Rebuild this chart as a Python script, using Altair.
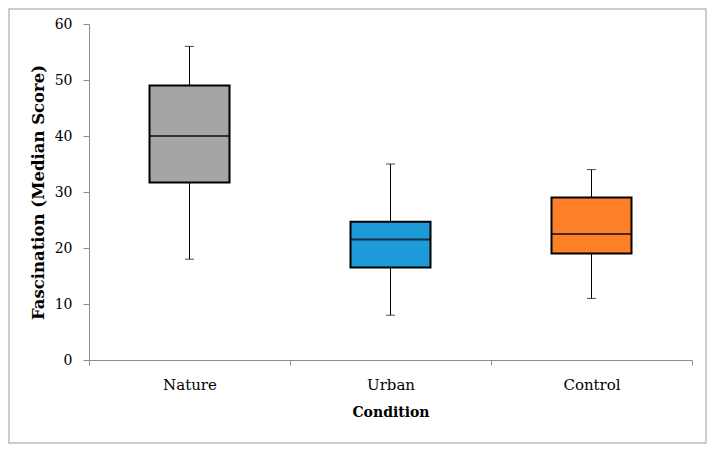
import altair as alt
import pandas as pd

conditions = ["Nature", "Urban", "Control"]
mins = [18, 8, 11]
q1s = [31.7, 16.5, 19]
medians = [40, 21.5, 22.5]
q3s = [49, 24.7, 29]
maxs = [56, 35, 34]
colors = ["#a5a5a5", "#1e9ad8", "#fd7f27"]

df = pd.DataFrame({
    "Condition": conditions,
    "min": mins, "q1": q1s, "median": medians, "q3": q3s, "max": maxs,
})

FONT = "DejaVu Serif"

x = alt.X("Condition:N", sort=conditions,
          scale=alt.Scale(paddingInner=0, paddingOuter=0),
          axis=alt.Axis(title="Condition", labelAngle=0, tickBand="extent",
                        domainColor="#8c8c8c", tickColor="#8c8c8c", tickSize=5,
                        labelPadding=12, titlePadding=13, labelFontSize=15,
                        titleFontSize=14, labelFont=FONT, titleFont=FONT,
                        titleFontWeight="bold", labelColor="black", titleColor="black",
                        grid=False))
yscale = alt.Scale(domain=[0, 60], nice=False, zero=True)
yaxis = alt.Axis(title="Fascination (Median Score)", values=[0, 10, 20, 30, 40, 50, 60],
                 domainColor="#8c8c8c", tickColor="#8c8c8c", tickSize=6,
                 labelPadding=11, titlePadding=8, labelFontSize=14, titleFontSize=16.5,
                 labelFont=FONT, titleFont=FONT, titleFontWeight="bold",
                 labelColor="black", titleColor="black", grid=False)

base = alt.Chart(df)

whisk = base.mark_rule(color="black", strokeWidth=1).encode(
    x=x, y=alt.Y("min:Q", scale=yscale, axis=yaxis), y2="max:Q")
cap_hi = base.mark_tick(color="black", size=9, thickness=1).encode(x=x, y="max:Q")
cap_lo = base.mark_tick(color="black", size=9, thickness=1).encode(x=x, y="min:Q")
box = base.mark_bar(size=80, stroke="black", strokeWidth=2).encode(
    x=x, y="q1:Q", y2="q3:Q",
    color=alt.Color("Condition:N", scale=alt.Scale(domain=conditions, range=colors), legend=None))
med = base.mark_tick(color="black", size=80, thickness=2).encode(x=x, y="median:Q")

frame = alt.Chart(pd.DataFrame({"a": [0]})).mark_rect(
    fill=None, stroke="#bdbdbd", strokeWidth=1.5).encode(
    x=alt.value(-80), x2=alt.value(617), y=alt.value(-15), y2=alt.value(419))

chart = alt.layer(frame, whisk, cap_hi, cap_lo, box, med).properties(
    width=603, height=336,
    autosize=alt.AutoSizeParams(type="none"),
    padding={"left": 81, "top": 16, "right": 16, "bottom": 85},
).configure_view(stroke=None)

chart.save("out.html", embed_options={"renderer": "svg", "actions": False})
